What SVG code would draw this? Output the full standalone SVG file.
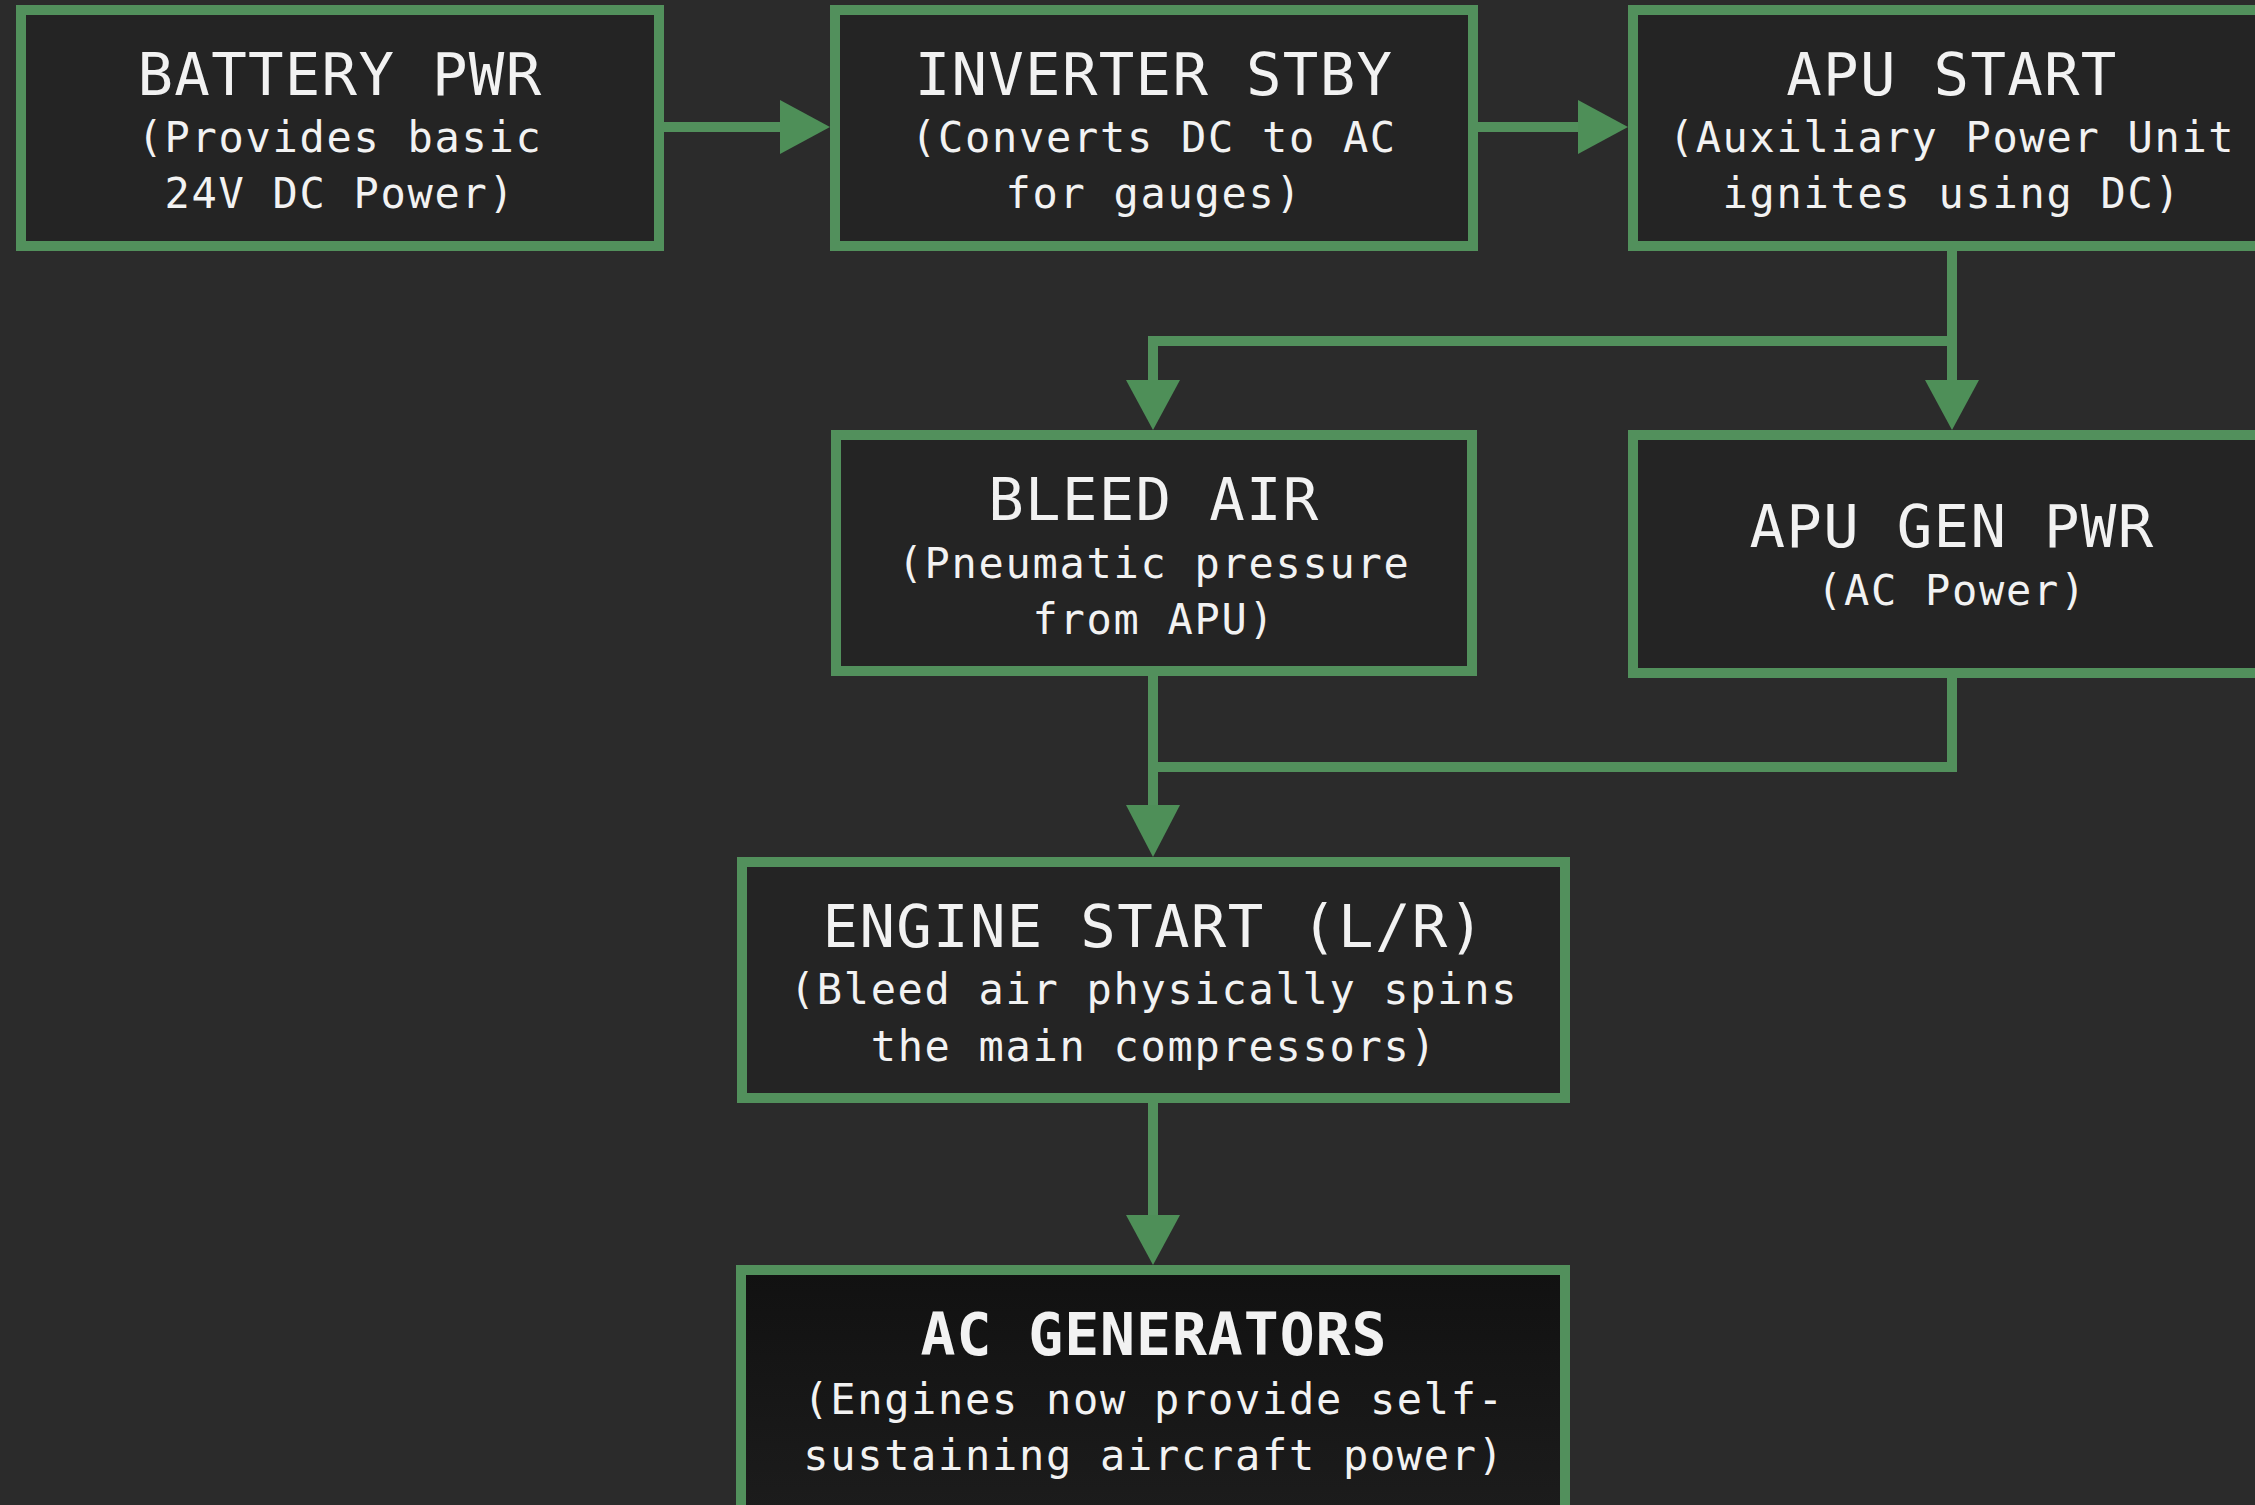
<svg xmlns="http://www.w3.org/2000/svg" width="2255" height="1505" viewBox="0 0 2255 1505">
  <defs>
    <style>
      .box { fill: #242424; stroke: #52905c; stroke-width: 10; }
      .wire { fill: none; stroke: #52905c; stroke-width: 10; stroke-linejoin: miter; }
      .head { fill: #4e8f58; }
      .t { font-family: "DejaVu Sans Mono", "Liberation Mono", monospace; fill: #f2f2f2; text-anchor: middle; }
      .title { font-size: 59px; letter-spacing: 1.3px; }
      .title.bold { font-weight: bold; font-size: 58px; letter-spacing: 1px; }
      .sub { font-size: 42px; letter-spacing: 1.7px; }
    </style>
    <linearGradient id="finalFill" x1="0" y1="0" x2="0" y2="1">
      <stop offset="0" stop-color="#111111"/>
      <stop offset="1" stop-color="#1c1c1c"/>
    </linearGradient>
  </defs>
  <rect x="0" y="0" width="2255" height="1505" fill="#2b2b2b"/>

  <g id="connectors">
    <line class="wire" x1="664" y1="127" x2="782" y2="127"/>
    <polygon class="head" points="780,100 830,127 780,154"/>
    <line class="wire" x1="1478" y1="127" x2="1580" y2="127"/>
    <polygon class="head" points="1578,100 1628,127 1578,154"/>
    <polyline class="wire" points="1952,251 1952,382"/>
    <polygon class="head" points="1925,380 1952,430 1979,380"/>
    <polyline class="wire" points="1952,341 1153,341 1153,382"/>
    <polygon class="head" points="1126,380 1153,430 1180,380"/>
    <polyline class="wire" points="1153,676 1153,807"/>
    <polyline class="wire" points="1952,678 1952,767 1153,767"/>
    <polygon class="head" points="1126,805 1153,857 1180,805"/>
    <polyline class="wire" points="1153,1103 1153,1217"/>
    <polygon class="head" points="1126,1215 1153,1265 1180,1215"/>
  </g>

  <g id="battery">
    <rect class="box" x="21" y="10" width="638" height="236"/>
    <text class="t title" x="340" y="95">BATTERY PWR</text>
    <text class="t sub" x="340" y="152">(Provides basic</text>
    <text class="t sub" x="340" y="208">24V DC Power)</text>
  </g>

  <g id="inverter">
    <rect class="box" x="835" y="10" width="638" height="236"/>
    <text class="t title" x="1154" y="95">INVERTER STBY</text>
    <text class="t sub" x="1154" y="152">(Converts DC to AC</text>
    <text class="t sub" x="1154" y="208">for gauges)</text>
  </g>

  <g id="apu-start">
    <rect class="box" x="1633" y="10" width="638" height="236"/>
    <text class="t title" x="1952" y="95">APU START</text>
    <text class="t sub" x="1952" y="152">(Auxiliary Power Unit</text>
    <text class="t sub" x="1952" y="208">ignites using DC)</text>
  </g>

  <g id="bleed-air">
    <rect class="box" x="836" y="435" width="636" height="236"/>
    <text class="t title" x="1154" y="520">BLEED AIR</text>
    <text class="t sub" x="1154" y="578">(Pneumatic pressure</text>
    <text class="t sub" x="1154" y="634">from APU)</text>
  </g>

  <g id="apu-gen">
    <rect class="box" x="1633" y="435" width="638" height="238"/>
    <text class="t title" x="1952" y="547">APU GEN PWR</text>
    <text class="t sub" x="1952" y="605">(AC Power)</text>
  </g>

  <g id="engine-start">
    <rect class="box" x="742" y="862" width="823" height="236"/>
    <text class="t title" x="1154" y="947">ENGINE START (L/R)</text>
    <text class="t sub" x="1154" y="1004">(Bleed air physically spins</text>
    <text class="t sub" x="1154" y="1061">the main compressors)</text>
  </g>

  <g id="ac-generators">
    <rect class="box" x="741" y="1270" width="824" height="240" style="fill:url(#finalFill)"/>
    <text class="t title bold" x="1154" y="1355">AC GENERATORS</text>
    <text class="t sub" x="1154" y="1414">(Engines now provide self-</text>
    <text class="t sub" x="1154" y="1470">sustaining aircraft power)</text>
  </g>
</svg>
